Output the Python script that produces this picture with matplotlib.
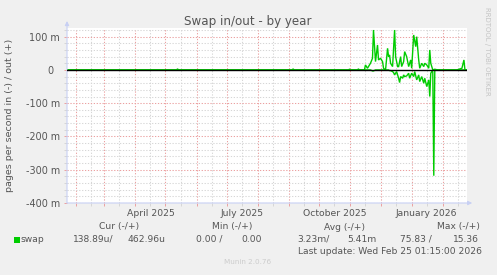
import matplotlib
matplotlib.use('Agg')
import matplotlib.pyplot as plt
import matplotlib.dates as mdates
import matplotlib.ticker as mticker
from matplotlib.patches import Rectangle
import numpy as np
from datetime import datetime

plt.rcParams['font.family'] = ['DejaVu Sans']

# ---------------- data (milli pages per second) ----------------
out_dates = ['2025-01-23', '2025-05-12', '2025-05-13', '2025-05-14', '2025-09-04', '2025-09-05',
             '2025-09-06', '2025-10-30', '2025-10-31', '2025-11-01', '2025-11-08', '2025-11-09',
             '2025-11-10', '2025-11-15', '2025-11-16', '2025-11-18', '2025-11-20', '2025-11-21',
             '2025-11-23', '2025-11-24', '2025-11-26', '2025-11-28', '2025-11-29', '2025-12-01',
             '2025-12-03', '2025-12-04', '2025-12-06', '2025-12-08', '2025-12-09', '2025-12-10',
             '2025-12-11', '2025-12-13', '2025-12-15', '2025-12-16', '2025-12-18', '2025-12-19',
             '2025-12-21', '2025-12-22', '2025-12-24', '2025-12-25', '2025-12-27', '2025-12-29',
             '2025-12-30', '2025-12-31', '2026-01-01', '2026-01-03', '2026-01-05', '2026-01-06',
             '2026-01-08', '2026-01-09', '2026-01-11', '2026-01-13', '2026-01-14', '2026-01-16',
             '2026-01-18', '2026-01-19', '2026-01-20', '2026-01-22', '2026-01-24', '2026-01-27',
             '2026-02-15', '2026-02-17', '2026-02-18', '2026-02-20', '2026-02-22', '2026-02-23',
             '2026-02-25']
out_values = [0, 0, 3, 0, 0, 3,
              0, 0, 2, 0, 0, 3,
              0, 0, 15, 5, 15, 20,
              35, 120, 25, 75, 30, 35,
              25, 5, 0, 65, 40, 45,
              20, 10, 120, 40, 10, 10,
              40, 10, 25, 55, 40, 10,
              20, 30, 5, 105, 70, 100,
              30, 5, 20, 10, 20, 15,
              5, 60, 20, 0, 2, 0,
              0, 2, 3, 5, 30, 0,
              0]

in_dates = ['2025-01-23', '2025-11-21', '2025-11-23', '2025-11-24', '2025-11-26', '2025-12-09',
            '2025-12-10', '2025-12-11', '2025-12-13', '2025-12-14', '2025-12-15', '2025-12-17',
            '2025-12-19', '2025-12-20', '2025-12-21', '2025-12-23', '2025-12-24', '2025-12-25',
            '2025-12-27', '2025-12-29', '2025-12-30', '2026-01-01', '2026-01-03', '2026-01-04',
            '2026-01-06', '2026-01-08', '2026-01-09', '2026-01-11', '2026-01-13', '2026-01-14',
            '2026-01-16', '2026-01-18', '2026-01-19', '2026-01-20', '2026-01-21', '2026-01-22',
            '2026-01-23', '2026-01-24', '2026-02-25']
in_values = [0, 0, 3, 3, 0, 0,
             2, 2, 5, 8, 15, 5,
             25, 38, 20, 25, 15, 20,
             18, 10, 25, 10, 20, 5,
             30, 15, 35, 20, 40, 25,
             50, 30, 80, 10, 5, 5,
             318, 0, 0]

ytick_values = [-400, -300, -200, -100, 0, 100]
ytick_labels = ['-400 m', '-300 m', '-200 m', '-100 m', '0  ', '100 m']
x_label_months = [1, 4, 7, 10]

title = 'Swap in/out - by year'
ylabel = 'pages per second in (-) / out (+)'
legend_headers = ['Cur (-/+)', 'Min (-/+)', 'Avg (-/+)', 'Max (-/+)']
legend_name = 'swap'
legend_vals = ['138.89u/', '462.96u', '0.00 /', '0.00', '3.23m/', '5.41m', '75.83 /', '15.36']
last_update = 'Last update: Wed Feb 25 01:15:00 2026'

# ---------------- styling ----------------
W, H = 497, 275
bg = '#F0F0F0'
txt = '#555555'
green = '#00CC00'
mgrid = '#EBA0A0'
grid = '#D6D6D6'
axc = '#C8D0F4'

def fx(px):
    return px / W

def fy(py):
    return 1 - py / H

fig = plt.figure(figsize=(W / 100, H / 100), dpi=100, facecolor=bg)
ax = fig.add_axes([fx(67), fy(203), 400 / W, 175 / H])
ax.set_facecolor('white')

od = [datetime.strptime(d, '%Y-%m-%d') for d in out_dates]
idt = [datetime.strptime(d, '%Y-%m-%d') for d in in_dates]

ax.plot(od, out_values, color=green, lw=1.0, zorder=3, solid_joinstyle='miter')
ax.plot(idt, -np.array(in_values), color=green, lw=1.0, zorder=3, solid_joinstyle='miter')
ax.axhline(0, color='black', lw=1.0, zorder=4)

ax.set_xlim(datetime(2025, 1, 23), datetime(2026, 2, 25, 1, 15))
ax.set_ylim(-400, 126)

# x axis
ax.xaxis.set_major_locator(mdates.DayLocator(bymonthday=16))

def xfmt(v, pos):
    d = mdates.num2date(v)
    return d.strftime('%B %Y') if d.month in x_label_months else ''

ax.xaxis.set_major_formatter(mticker.FuncFormatter(xfmt))
ax.xaxis.set_minor_locator(mdates.MonthLocator())

# y axis
ax.yaxis.set_major_locator(mticker.FixedLocator(ytick_values))
ax.set_yticklabels(ytick_labels)
ax.yaxis.set_minor_locator(mticker.MultipleLocator(20))

dots = (0, (1.2, 1.6))
ax.grid(which='major', axis='x', color=grid, ls=dots, lw=0.75, zorder=1)
ax.grid(which='minor', axis='x', color=mgrid, ls=dots, lw=0.75, zorder=1)
ax.grid(which='major', axis='y', color=mgrid, ls=dots, lw=0.75, zorder=1)
ax.grid(which='minor', axis='y', color=grid, ls=dots, lw=0.75, zorder=1)
ax.set_axisbelow(True)

ax.tick_params(axis='x', which='major', length=2, width=0.7, color=grid, pad=2,
               labelsize=6.7, labelcolor=txt)
ax.tick_params(axis='x', which='minor', length=2, width=0.7, color=mgrid)
ax.tick_params(axis='y', which='major', length=2, width=0.7, color=mgrid, pad=3,
               labelsize=6.9, labelcolor=txt)
ax.tick_params(axis='y', which='minor', length=2, width=0.7, color=grid)

for s in ax.spines.values():
    s.set_visible(False)

# axis lines with arrows
ax.annotate('', xy=(0, 1.04), xytext=(0, 0), xycoords='axes fraction',
            arrowprops=dict(arrowstyle='-|>', color=axc, lw=0.8, mutation_scale=6,
                            shrinkA=0, shrinkB=0), annotation_clip=False)
ax.annotate('', xy=(1.013, 0), xytext=(0, 0), xycoords='axes fraction',
            arrowprops=dict(arrowstyle='-|>', color=axc, lw=0.8, mutation_scale=6,
                            shrinkA=0, shrinkB=0), annotation_clip=False)

# texts
fig.text(fx(248), fy(25.5), title, ha='center', va='baseline', fontsize=8.6, color=txt)
fig.text(fx(10), fy(115), ylabel, ha='center', va='center', rotation=90, fontsize=6.8, color=txt)
fig.text(fx(487), fy(51), 'RRDTOOL / TOBI OETIKER', ha='center', va='center', rotation=270,
         fontsize=5, color='#C4C4C4')

header_right = [139, 252, 365, 480]
for h, xr in zip(legend_headers, header_right):
    fig.text(fx(xr), fy(227), h, ha='right', va='center', fontsize=6.6, color=txt)

fig.patches.append(Rectangle((fx(14), fy(243)), 6 / W, 6 / H, transform=fig.transFigure,
                             facecolor=green, edgecolor='none'))
fig.text(fx(20.5), fy(239), legend_name, ha='left', va='center', fontsize=6.6, color=txt)
val_right = [114, 165, 223, 262, 330, 377, 432, 479]
for v, xr in zip(legend_vals, val_right):
    fig.text(fx(xr), fy(239), v, ha='right', va='center', fontsize=6.6, color=txt)

fig.text(fx(482), fy(251), last_update, ha='right', va='center', fontsize=6.6, color=txt)
fig.text(fx(248), fy(262.5), 'Munin 2.0.76', ha='center', va='center', fontsize=5.2, color='#CCCCCC')

fig.savefig('out.png', dpi=100, facecolor=bg)
